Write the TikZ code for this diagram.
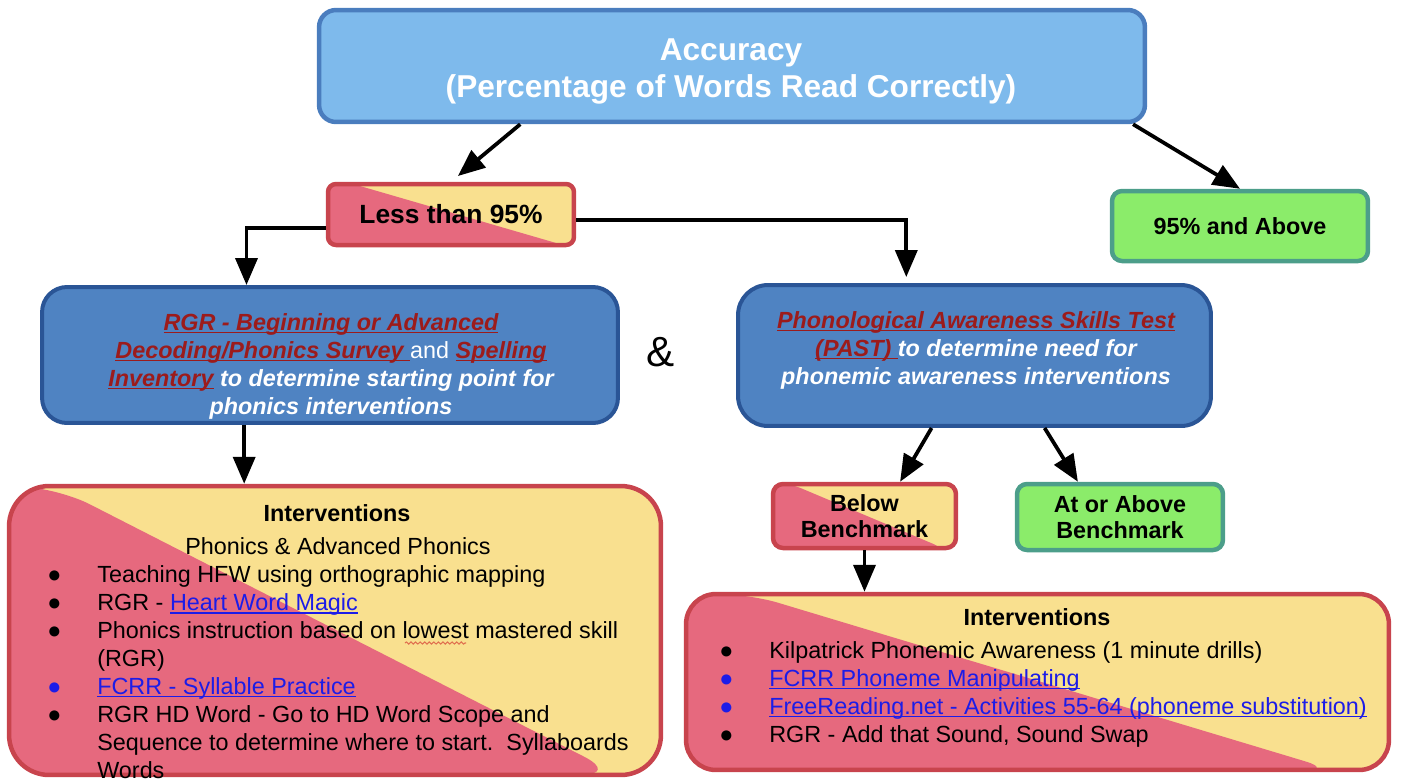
\documentclass[tikz,border=0pt]{standalone}
\usepackage{fontspec}
\setmainfont{Liberation Sans}
\usetikzlibrary{arrows.meta,calc,decorations.pathmorphing}

\definecolor{accfill}{HTML}{7EBAEC}
\definecolor{accline}{HTML}{4A7DBE}
\definecolor{testfill}{HTML}{4F83C2}
\definecolor{testline}{HTML}{2A5596}
\definecolor{splitred}{HTML}{E6697E}
\definecolor{splityellow}{HTML}{F9E08F}
\definecolor{splitline}{HTML}{C8444D}
\definecolor{okfill}{HTML}{8BEC6A}
\definecolor{okline}{HTML}{4C9E8A}
\definecolor{linkred}{HTML}{9C1B1B}
\definecolor{linkblue}{HTML}{1C1CE8}
\definecolor{spellred}{HTML}{E0704F}

\newcommand{\bodyfont}{\fontsize{13.3}{15.9}\selectfont}
\newsavebox{\linkbox}
\newcommand{\uln}[1]{\sbox{\linkbox}{#1}\rlap{\rule[-1.8pt]{\wd\linkbox}{0.9pt}}\usebox{\linkbox}}
\newcommand{\rlink}[1]{{\color{linkred}\uln{#1}}}
\newcommand{\blink}[1]{{\color{linkblue}\uln{#1}}}
\newcommand{\bul}[1][black]{\makebox[1cm][l]{\color{#1}●}}
\newlength{\bulw}\setlength{\bulw}{1cm}

\begin{document}
\begin{tikzpicture}[x=0.02cm, y=-0.02cm,
  arr/.style={-{Triangle[length=0.54cm,width=0.44cm]}, line width=0.075cm},
  accbox/.style={draw=accline, fill=accfill, line width=0.09cm, rounded corners=0.34cm},
  acctext/.style={text=white, align=center, font=\fontsize{18}{21}\selectfont\bfseries},
  testbox/.style={draw=testline, fill=testfill, line width=0.08cm, rounded corners=#1},
  testtext/.style={text=white, align=center, font=\bodyfont\bfseries\itshape},
  okbox/.style={draw=okline, fill=okfill, line width=0.09cm, rounded corners=0.2cm,
    align=center, font=\fontsize{13.3}{14.7}\selectfont\bfseries},
  splitbox/.style 2 args={draw=splitline, line width=0.09cm, path picture={
    \fill[splityellow] (path picture bounding box.south west) rectangle (path picture bounding box.north east);
    \fill[splitred] (path picture bounding box.south west) -- (path picture bounding box.north west)
      -- ([xshift=#1]path picture bounding box.north west)
      -- ([xshift=-#2]path picture bounding box.south east) -- cycle;}},
  ]
\useasboundingbox (0,0) rectangle (1401,779);

% top of the tree
\node[accbox, minimum width=16.52cm, minimum height=2.24cm] (acc) at (732,66) {};
\node[acctext, anchor=base] (acc-t) at (731,97) {Accuracy\\(Percentage of Words Read Correctly)};
\node[splitbox={0.5cm}{0.22cm}, rounded corners=0.16cm, minimum width=4.92cm, minimum height=1.22cm,
  font=\fontsize{15}{18}\selectfont\bfseries] (less) at (451,214.5) {Less than 95\%};
\node[okbox, minimum width=5.12cm, minimum height=1.4cm] (above) at (1240,226) {95\% and Above};

% the two tests
\node[testbox=0.5cm, minimum width=11.52cm, minimum height=2.72cm] (rgr) at (330,355) {};
\node[testtext, anchor=base] (rgr-t) at (331,414) {\rlink{RGR - Beginning or Advanced}\\
  \rlink{Decoding/Phonics Survey~}{\mdseries\upshape and} \rlink{Spelling}\\
  \rlink{Inventory} to determine starting point for\\
  phonics interventions};
\node[font=\fontsize{24}{28}\selectfont, anchor=base] (amp) at (661,366) {\&};
\node[testbox=0.6cm, minimum width=9.46cm, minimum height=2.82cm] (past) at (974.5,355.5) {};
\node[testtext, anchor=base] (past-t) at (976,384) {\rlink{Phonological Awareness Skills Test}\\
  \rlink{(PAST)~}to determine need for\\
  phonemic awareness interventions};

% benchmark results
\node[splitbox={0.36cm}{0.26cm}, rounded corners=0.2cm, minimum width=3.66cm, minimum height=1.28cm,
  align=center, font=\fontsize{13.3}{14.7}\selectfont\bfseries] (below) at (864.5,516) {Below\\Benchmark};
\node[okbox, minimum width=4.12cm, minimum height=1.32cm] (atabove) at (1120,517) {At or Above\\Benchmark};

% interventions
\node[splitbox={0.9cm}{0.82cm}, rounded corners=0.8cm, minimum width=13.04cm, minimum height=5.78cm] (intl) at (335,630.5) {};
\node[anchor=base, font=\bodyfont\bfseries] (intl-h) at (337,521) {Interventions};
\node[anchor=base, font=\bodyfont] (intl-s) at (338,554) {Phonics \& Advanced Phonics};
\node[anchor=base west, inner sep=0pt, align=left, font=\bodyfont] (intl-l) at (47,778) {\bul Teaching HFW using orthographic mapping\\
  \bul RGR - \blink{Heart Word Magic}\\
  \bul Phonics instruction based on lowest mastered skill\\
  \hspace*{\bulw}(RGR)\\
  \bul[linkblue]\blink{FCRR - Syllable Practice}\\
  \bul RGR HD Word - Go to HD Word Scope and\\
  \hspace*{\bulw}Sequence to determine where to start.\ \ Syllaboards\\
  \hspace*{\bulw}Words};
\draw[spellred, line width=0.6pt, decorate, decoration={snake, amplitude=0.6pt, segment length=2.6pt}] (405,643) -- (466,643);

\node[splitbox={1.26cm}{1.1cm}, rounded corners=0.6cm, minimum width=14.06cm, minimum height=3.52cm] (intr) at (1037.5,682) {};
\node[anchor=base, font=\bodyfont\bfseries] (intr-h) at (1037,625) {Interventions};
\node[anchor=base west, inner sep=0pt, align=left, font=\bodyfont] (intr-l) at (719,742) {\bul Kilpatrick Phonemic Awareness (1 minute drills)\\
  \bul[linkblue]\blink{FCRR Phoneme Manipulating}\\
  \bul[linkblue]\blink{FreeReading.net - Activities 55-64 (phoneme substitution)}\\
  \bul RGR - Add that Sound, Sound Swap};

% connectors
\draw[arr, shorten >=0.18cm] ($(acc.south west)!0.245!(acc.south east)$) -- (less.north);
\draw[arr] ($(acc.south west)!0.983!(acc.south east)$) -- (above.north);
\draw[arr] ([yshift=-0.27cm]less.west) -| ($(rgr.north west)!0.356!(rgr.north east)$);
\draw[arr, shorten >=0.12cm] ([yshift=-0.11cm]less.east) -| ($(past.north west)!0.357!(past.north east)$);
\coordinate (rgr-s) at ($(rgr.south west)!0.352!(rgr.south east)$);
\draw[arr] (rgr-s) -- (rgr-s |- intl.north);
\draw[arr] ($(past.south west)!0.41!(past.south east)$) -- ($(below.north west)!0.69!(below.north east)$);
\draw[arr] ($(past.south west)!0.647!(past.south east)$) -- ($(atabove.north west)!0.3!(atabove.north east)$);
\draw[arr] (below.south) -- (below.south |- intr.north);

\end{tikzpicture}
\end{document}
